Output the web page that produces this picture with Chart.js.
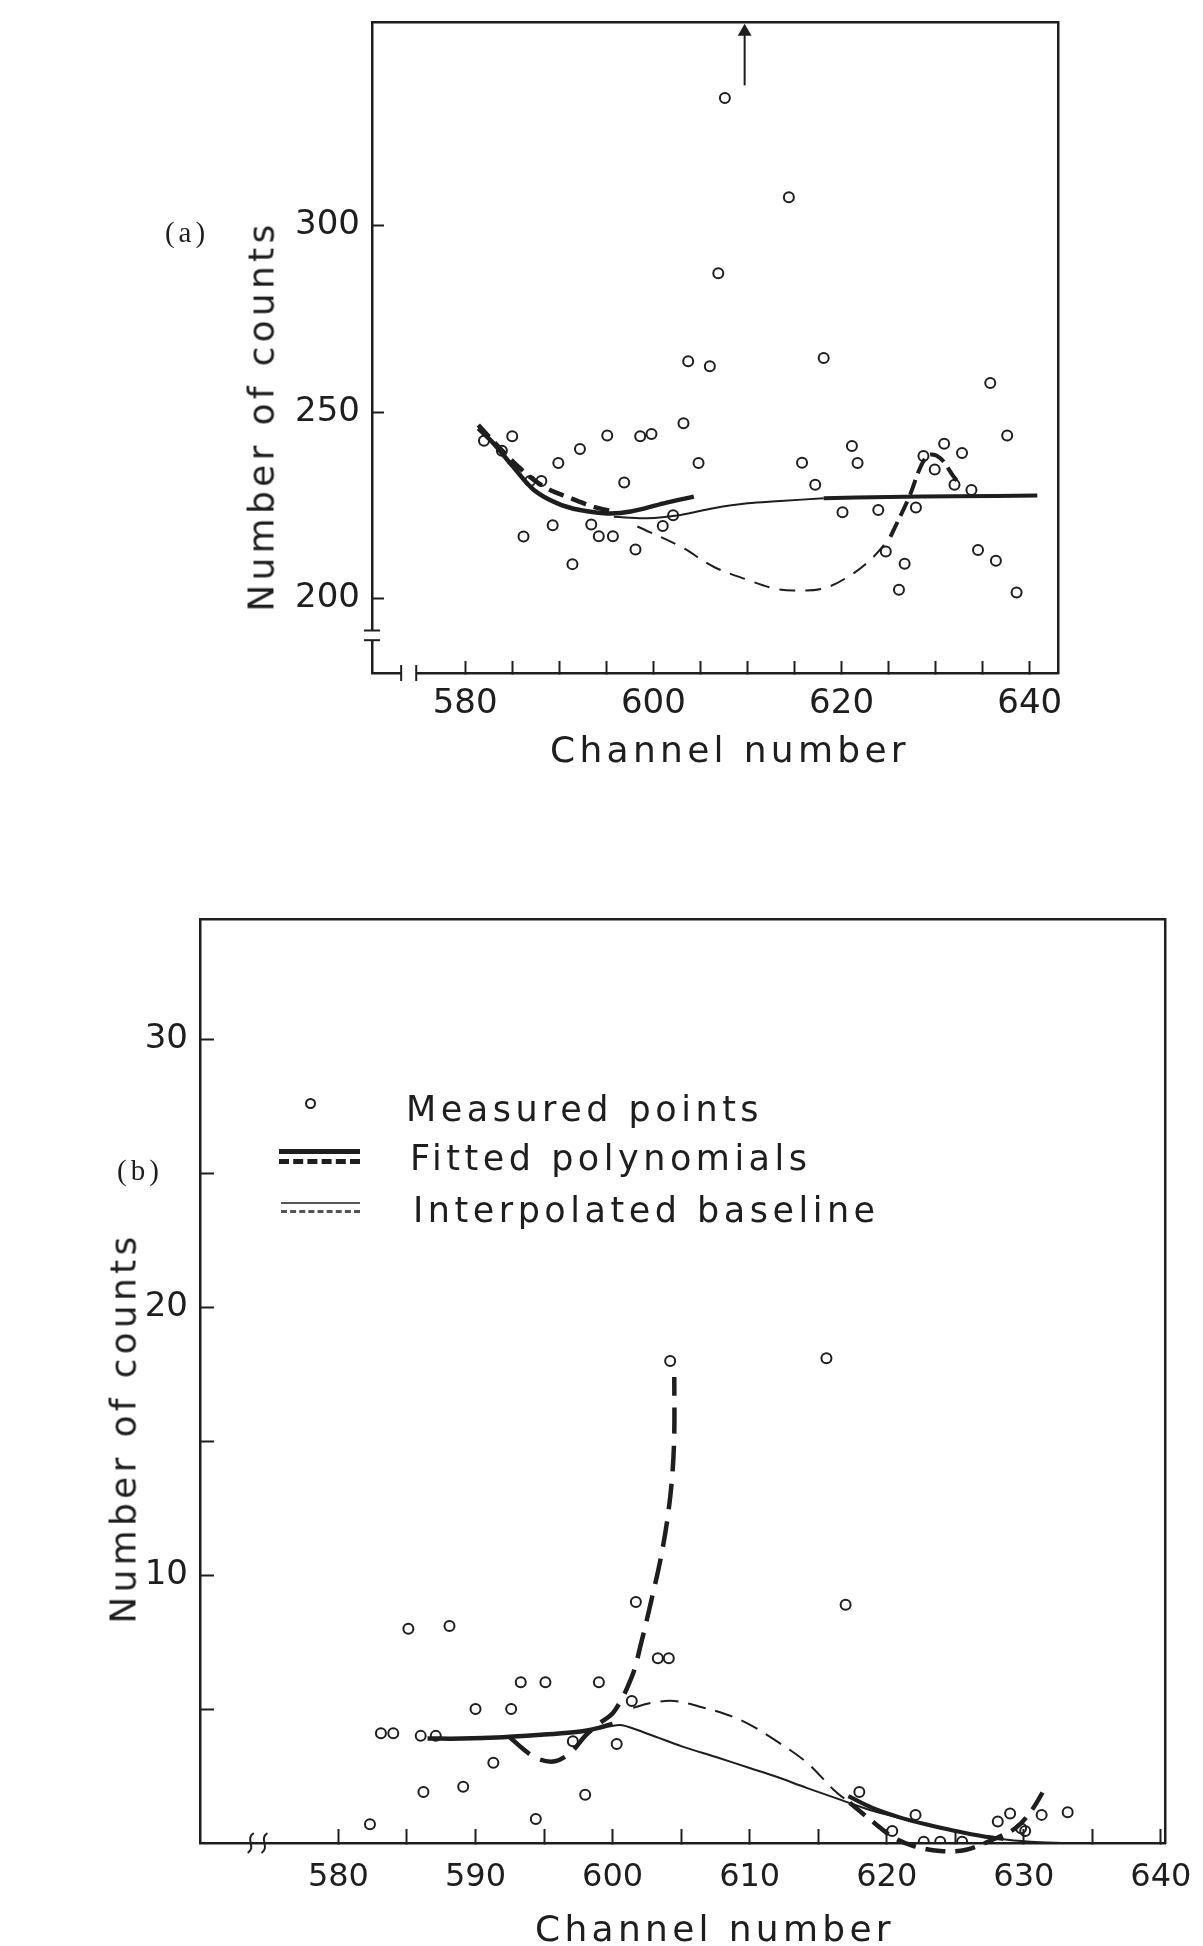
<!DOCTYPE html>
<html lang="en">
<head>
<meta charset="UTF-8">
<title>Number of counts vs channel number</title>
<script src="https://cdn.jsdelivr.net/npm/chart.js"></script>
<style>
  body { margin: 0; background: #fff; }
  #page { position: relative; width: 1203px; height: 1946px; overflow: hidden; font-family: "DejaVu Sans", sans-serif; color: #1e1e1e; }
  canvas { position: absolute; left: 0; }
  .lbl { position: absolute; white-space: nowrap; transform: translate(-50%, -50%); }
  .ttl { font-size: 36px; letter-spacing: 4.3px; }
  .rot { transform: translate(-50%, -50%) rotate(-90deg); }
  .panel { font-family: "Liberation Serif", serif; font-size: 29px; letter-spacing: 4px; }
  .leg { position: absolute; white-space: nowrap; transform: translateY(-50%); font-size: 35px; letter-spacing: 4.5px; }
  .sym { position: absolute; }
</style>
</head>
<body>
<div id="page">
  <canvas id="chartA" width="1203" height="790" style="top:0"></canvas>
  <canvas id="chartB" width="1203" height="1066" style="top:880px"></canvas>

  <div class="lbl panel" style="left:187px; top:232px">(a)</div>
  <div class="lbl ttl rot" style="left:261px; top:416px">Number of counts</div>
  <div class="lbl ttl" style="left:730px; top:749px">Channel number</div>

  <div class="lbl panel" style="left:140px; top:1170px">(b)</div>
  <div class="lbl ttl rot" style="left:123px; top:1428px">Number of counts</div>
  <div class="lbl ttl" style="left:715px; top:1928px">Channel number</div>

  <!-- legend of panel (b) -->
  <div class="sym" style="left:305px; top:1098px; width:7px; height:7px; border:2px solid #1e1e1e; border-radius:50%"></div>
  <div class="leg" style="left:406px; top:1109px">Measured points</div>
  <div class="sym" style="left:279px; top:1149px; width:81px; border-top:5px solid #1e1e1e"></div>
  <div class="sym" style="left:279px; top:1159px; width:81px; border-top:5px dashed #1e1e1e"></div>
  <div class="leg" style="left:410px; top:1158px">Fitted polynomials</div>
  <div class="sym" style="left:281px; top:1202px; width:79px; border-top:2px solid #555"></div>
  <div class="sym" style="left:281px; top:1210px; width:79px; border-top:3px dashed #555"></div>
  <div class="leg" style="left:413px; top:1210px">Interpolated baseline</div>
</div>

<script>
// ---- panel (a) ----
const xTicksA = [580, 585, 590, 595, 600, 605, 610, 615, 620, 625, 630, 635, 640];
const xLabelsA = [580, 600, 620, 640];
const yTicksA = [200, 250, 300];

const chanA = [607.6, 614.4, 606.9, 603.7, 606.0, 618.1, 635.8, 582.0, 585.0, 583.9, 589.9, 592.2, 595.1, 598.6, 599.8, 603.2, 604.8, 596.9, 586.9, 588.1, 586.2, 589.3, 591.4, 593.4, 594.2, 595.7, 598.1, 601.0, 602.1, 615.8, 617.2, 620.1, 621.1, 621.7, 623.9, 624.7, 626.7, 626.1, 627.9, 628.7, 629.9, 630.9, 632.8, 632.0, 633.8, 637.6, 634.5, 636.4, 638.6];
const countA = [334.2, 307.6, 287.2, 263.6, 262.3, 264.5, 257.8, 242.3, 243.5, 239.6, 236.3, 240.1, 243.7, 243.5, 244.1, 247.0, 236.3, 231.1, 231.5, 231.5, 216.6, 219.6, 209.2, 219.8, 216.7, 216.7, 213.1, 219.4, 222.3, 236.4, 230.5, 223.1, 240.9, 236.3, 223.7, 212.6, 209.3, 202.3, 224.4, 238.2, 234.6, 241.5, 239.0, 230.5, 229.1, 243.7, 213.0, 210.1, 201.6];

// fitted polynomials (thick) and interpolated baselines (thin)
const fitA1X = [581.4, 583.0, 585.1, 587.3, 589.8, 592.2, 595.1, 597.6, 601.1, 604.3];
const fitA1Y = [245.6, 241.6, 235.3, 229.1, 225.5, 223.7, 222.8, 223.3, 225.5, 227.3];
const fitA1dX = [581.4, 583.5, 586.0, 588.5, 591.2, 593.6, 596.0];
const fitA1dY = [246.5, 240.8, 234.5, 229.8, 226.9, 224.6, 223.2];
const fitA2X = [618.1, 625.0, 632.0, 640.8];
const fitA2Y = [226.9, 227.2, 227.4, 227.6];
const fitA2dX = [625.2, 627.2, 628.4, 629.3, 630.5, 631.9, 632.5];
const fitA2dY = [216.6, 227.3, 235.3, 238.5, 237.6, 232.7, 230.9];
const baseAX = [595.8, 599.3, 602.9, 606.4, 610.0, 613.5, 618.1];
const baseAY = [221.9, 221.5, 222.4, 224.2, 225.5, 226.1, 226.9];
const baseAdX = [598.3, 602.9, 606.4, 610.0, 612.8, 614.9, 618.1, 621.0, 623.4, 625.2];
const baseAdY = [219.3, 213.9, 208.5, 205.0, 202.7, 202.1, 202.7, 206.3, 211.2, 216.6];
const arrowX = [609.7, 609.7];
const arrowY = [337.6, 352.0];

// ---- panel (b) ----
const xTicksB = [580, 585, 590, 595, 600, 605, 610, 615, 620, 625, 630, 635, 640];
const xLabelsB = [580, 590, 600, 610, 620, 630, 640];
const yTicksB = [5, 10, 15, 20, 25, 30];
const yLabelsB = [10, 20, 30];

const chanB = [582.3, 583.1, 584.0, 585.1, 586.0, 586.2, 587.1, 588.1, 589.1, 590.0, 591.3, 592.6, 593.3, 594.4, 595.1, 597.1, 598.0, 599.0, 600.3, 601.4, 601.7, 603.3, 604.1, 604.2, 615.6, 617.0, 618.0, 620.4, 622.1, 622.7, 623.9, 625.5, 628.1, 629.0, 629.8, 630.1, 631.3, 633.2];
const countB = [0.7, 4.1, 4.1, 8.0, 4.0, 1.9, 4.0, 8.1, 2.1, 5.0, 3.0, 5.0, 6.0, 0.9, 6.0, 3.8, 1.8, 6.0, 3.7, 5.3, 9.0, 6.9, 6.9, 18.0, 18.1, 8.9, 1.9, 0.45, 1.05, 0.05, 0.05, 0.05, 0.8, 1.1, 0.55, 0.45, 1.05, 1.15];

const fitB1X = [586.5, 589.0, 592.0, 595.0, 597.5, 599.0, 600.0];
const fitB1Y = [3.9, 3.9, 3.95, 4.05, 4.15, 4.3, 4.45];
const fitB1dX = [592.5, 593.5, 594.5, 595.8, 597.0, 598.0, 599.0, 600.1, 601.4, 602.1, 602.8, 603.5, 604.0, 604.35, 604.5, 604.5];
const fitB1dY = [3.95, 3.5, 3.15, 3.05, 3.4, 4.0, 4.45, 4.9, 6.2, 7.5, 9.0, 10.6, 12.1, 13.7, 15.3, 17.4];
const fitB2X = [617.2, 619.0, 621.0, 623.0, 625.0, 627.0, 628.5];
const fitB2Y = [1.75, 1.3, 0.95, 0.68, 0.45, 0.25, 0.15];
const fitB2dX = [617.3, 619.1, 620.5, 622.0, 623.9, 625.8, 627.7, 629.4, 630.6, 631.6];
const fitB2dY = [1.5, 0.75, 0.2, -0.12, -0.3, -0.25, 0.12, 0.56, 1.24, 2.1];
const baseBX = [599.7, 600.7, 602.7, 605.1, 607.6, 610.0, 611.8, 614.2, 616.6, 619.1, 621.5, 623.9, 626.4, 628.8, 631.2, 633.6, 636.8];
const baseBY = [4.35, 4.4, 4.05, 3.6, 3.2, 2.8, 2.5, 2.05, 1.62, 1.18, 0.87, 0.56, 0.31, 0.12, 0.03, 0, 0];
const baseBdX = [601.5, 603.0, 604.5, 606.3, 608.3, 609.9, 611.8, 614.2, 616.1, 617.3];
const baseBdY = [5.05, 5.25, 5.3, 5.1, 4.8, 4.45, 3.86, 2.99, 2.0, 1.5];

const ink = '#1e1e1e';
const font = 'DejaVu Sans';
const pts = (xs, ys) => xs.map((x, i) => ({ x: x, y: ys[i] }));

function points(xs, ys) {
  return { data: pts(xs, ys), showLine: false, pointRadius: 5, pointBorderWidth: 2,
           pointBorderColor: ink, pointBackgroundColor: 'rgba(0,0,0,0)' };
}
function curve(xs, ys, width, dash) {
  return { data: pts(xs, ys), showLine: true, pointRadius: 0, borderColor: ink,
           borderWidth: width, borderDash: dash || [], tension: 0.35, clip: false };
}

// small marks for the broken axes
const axisBreaks = {
  id: 'axisBreaks',
  afterDraw(chart, args, opts) {
    const { ctx, chartArea: a, scales } = chart;
    ctx.save();
    ctx.strokeStyle = ink;
    ctx.lineWidth = 2;
    (opts.x || []).forEach(b => {
      const p1 = scales.x.getPixelForValue(b[0]);
      const p2 = scales.x.getPixelForValue(b[1]);
      const y = a.bottom;
      if (b[2] === 'gap') {
        ctx.fillStyle = '#fff';
        ctx.fillRect(p1, y - 3, p2 - p1, 6);
        [p1, p2].forEach(p => { ctx.beginPath(); ctx.moveTo(p, y - 8); ctx.lineTo(p, y + 8); ctx.stroke(); });
      } else {
        [p1, p2].forEach(p => {
          ctx.beginPath(); ctx.moveTo(p + 3, y - 10);
          ctx.bezierCurveTo(p - 6, y - 4, p + 6, y + 4, p - 3, y + 10); ctx.stroke();
        });
      }
    });
    (opts.y || []).forEach(b => {
      const p1 = scales.y.getPixelForValue(b[0]);
      const p2 = scales.y.getPixelForValue(b[1]);
      const x = a.left;
      ctx.fillStyle = '#fff';
      ctx.fillRect(x - 3, p2, 6, p1 - p2);
      [p1, p2].forEach(p => { ctx.beginPath(); ctx.moveTo(x - 8, p); ctx.lineTo(x + 8, p); ctx.stroke(); });
    });
    ctx.restore();
  }
};

function axes(o) {
  const fixTicks = list => s => { s.ticks = list.map(v => ({ value: v })); };
  const grid = len => ({ drawOnChartArea: false, tickLength: len, tickWidth: 2, tickColor: ink });
  const border = { color: ink, width: 2.5 };
  // fixed axis sizes, no extra label overhang padding
  const fitX = h => s => { s.height = h; s.paddingLeft = 0; s.paddingRight = 0; };
  const fitY = w => s => { s.width = w; s.paddingTop = 0; s.paddingBottom = 0; };
  return {
    x: { type: 'linear', min: o.xmin, max: o.xmax, afterFit: fitX(o.xh),
         afterBuildTicks: fixTicks(o.xt), grid: grid(o.tl), border: border,
         ticks: { autoSkip: false, maxRotation: 0, padding: o.xpad, color: ink,
                  font: { family: font, size: o.xfs },
                  callback: v => o.xl.includes(v) ? String(v) : '' } },
    y: { type: 'linear', min: o.ymin, max: o.ymax, afterFit: fitY(o.yw),
         afterBuildTicks: fixTicks(o.yt), grid: grid(o.tl), border: border,
         ticks: { autoSkip: false, padding: o.ypad, color: ink,
                  font: { family: font, size: o.yfs },
                  callback: v => o.yl.includes(v) ? String(v) : '' } },
    x2: { type: 'linear', position: 'top', min: o.xmin, max: o.xmax, afterFit: fitX(0),
          ticks: { display: false }, grid: { display: false }, border: border },
    y2: { type: 'linear', position: 'right', min: o.ymin, max: o.ymax, afterFit: fitY(0),
          ticks: { display: false }, grid: { display: false }, border: border }
  };
}

const common = { responsive: false, animation: false, events: [],
                 plugins: { legend: { display: false }, tooltip: { enabled: false } } };

new Chart(document.getElementById('chartA'), {
  type: 'scatter',
  plugins: [axisBreaks],
  data: { datasets: [
    points(chanA, countA),
    curve(fitA1X, fitA1Y, 4.5),
    curve(fitA1dX, fitA1dY, 4.5, [16, 8]),
    curve(fitA2X, fitA2Y, 4),
    curve(fitA2dX, fitA2dY, 4, [16, 7]),
    curve(baseAX, baseAY, 2),
    curve(baseAdX, baseAdY, 2, [16, 10]),
    { data: pts(arrowX, arrowY), showLine: true, borderColor: ink, borderWidth: 2,
      pointRadius: [0, 6], pointStyle: 'triangle', pointBackgroundColor: ink, pointBorderColor: ink, clip: false }
  ] },
  options: Object.assign({}, common, {
    layout: { padding: { left: 0, top: 22, right: 145, bottom: 0 } },
    scales: axes({ xmin: 570.1, xmax: 643, ymin: 180, ymax: 354.6, xh: 117, yw: 372, tl: -12,
                   xt: xTicksA, xl: xLabelsA, yt: yTicksA, yl: yTicksA,
                   xpad: 23, ypad: 24, xfs: 34, yfs: 34 }),
    plugins: Object.assign({}, common.plugins, { axisBreaks: { x: [[573.2, 574.8, 'gap']], y: [[188.8, 191.4]] } })
  })
});

new Chart(document.getElementById('chartB'), {
  type: 'scatter',
  plugins: [axisBreaks],
  data: { datasets: [
    points(chanB, countB),
    curve(fitB1X, fitB1Y, 4.5),
    curve(fitB1dX, fitB1dY, 4.5, [26, 12]),
    curve(fitB2X, fitB2Y, 4),
    curve(fitB2dX, fitB2dY, 4.5, [20, 10]),
    curve(baseBX, baseBY, 2),
    curve(baseBdX, baseBdY, 2, [18, 10])
  ] },
  options: Object.assign({}, common, {
    layout: { padding: { left: 0, top: 39, right: 38, bottom: 0 } },
    scales: axes({ xmin: 569.9, xmax: 640.3, ymin: 0, ymax: 34.5, xh: 103, yw: 200, tl: -14,
                   xt: xTicksB, xl: xLabelsB, yt: yTicksB, yl: yLabelsB,
                   xpad: 29, ypad: 26, xfs: 32, yfs: 34 }),
    plugins: Object.assign({}, common.plugins, { axisBreaks: { x: [[573.6, 574.6, 'wave']] } })
  })
});
</script>
</body>
</html>
